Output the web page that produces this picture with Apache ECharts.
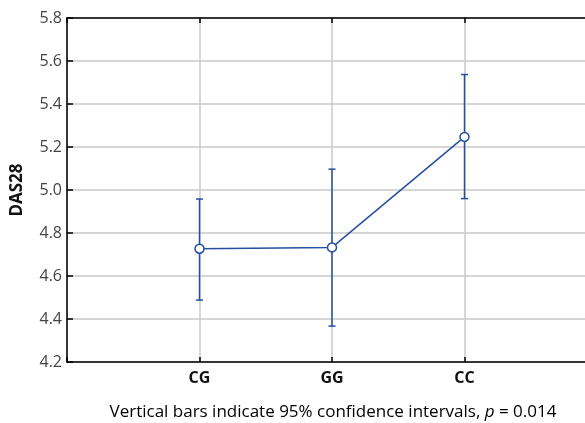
<!DOCTYPE html>
<html>
<head>
<meta charset="utf-8">
<script src="https://cdn.jsdelivr.net/npm/echarts@6/dist/echarts.min.js"></script>
<style>html,body{margin:0;padding:0;background:#fff}#c{width:585px;height:423px}</style>
</head>
<body>
<div id="c"></div>
<script>
const categories = ['CG', 'GG', 'CC'];
const means = [4.727, 4.733, 5.247];
const lower = [4.488, 4.367, 4.960];
const upper = [4.958, 5.097, 5.537];
const yTicks = [4.2, 4.4, 4.6, 4.8, 5.0, 5.2, 5.4, 5.6, 5.8];

const blue = '#24509f';
const font = '"Open Sans", "Noto Sans", sans-serif';

const lineData = categories.map((c, i) => [i + 1, means[i]]);
const errData = categories.map((c, i) => [i + 1, lower[i], upper[i]]);

const chart = echarts.init(document.getElementById('c'), null, {renderer: 'canvas'});
chart.setOption({
  animation: false,
  backgroundColor: '#fff',
  grid: {left: 67, top: 18, width: 530, height: 344, containLabel: false, outerBoundsMode: 'none'},
  xAxis: [{
    type: 'value', min: 0, max: 4, interval: 1,
    axisLine: {show: true, lineStyle: {color: '#000', width: 1.5}},
    axisTick: {show: true, inside: true, length: 5, lineStyle: {color: '#000', width: 1.5}},
    axisLabel: {
      margin: 8, fontFamily: font, fontSize: 16, fontWeight: 'bold', color: '#111',
      formatter: v => (v >= 1 && v <= categories.length) ? categories[v - 1] : ''
    },
    splitLine: {show: true, lineStyle: {color: '#c8c8c8', width: 1.5}}
  }, {
    type: 'value', position: 'top', min: 0, max: 4, interval: 1,
    axisLine: {show: true, lineStyle: {color: '#000', width: 1.5}},
    axisTick: {show: true, inside: true, length: 5, lineStyle: {color: '#000', width: 1.5}},
    axisLabel: {show: false},
    splitLine: {show: false}
  }],
  yAxis: {
    type: 'value', min: 4.2, max: 5.8, interval: 0.2,
    name: 'DAS28', nameLocation: 'middle', nameRotate: 90, nameGap: 41,
    nameTextStyle: {fontFamily: font, fontSize: 17, fontWeight: 'bold', color: '#111'},
    axisLine: {show: true, lineStyle: {color: '#000', width: 1.5}},
    axisTick: {show: true, inside: true, length: 6, lineStyle: {color: '#000', width: 1.5}},
    axisLabel: {
      margin: 5, fontFamily: font, fontSize: 16, color: '#444',
      formatter: v => v.toFixed(1)
    },
    splitLine: {show: true, lineStyle: {color: '#c8c8c8', width: 1.5}}
  },
  series: [{
    type: 'custom',
    data: errData,
    z: 3,
    renderItem: function (params, api) {
      const x = api.value(0);
      const lo = api.coord([x, api.value(1)]);
      const hi = api.coord([x, api.value(2)]);
      const hw = 3.5;
      const st = {stroke: blue, lineWidth: 1.5};
      return {
        type: 'group',
        children: [
          {type: 'line', shape: {x1: lo[0], y1: lo[1], x2: hi[0], y2: hi[1]}, style: st},
          {type: 'line', shape: {x1: lo[0] - hw, y1: lo[1], x2: lo[0] + hw, y2: lo[1]}, style: st},
          {type: 'line', shape: {x1: hi[0] - hw, y1: hi[1], x2: hi[0] + hw, y2: hi[1]}, style: st}
        ]
      };
    }
  }, {
    type: 'line',
    data: lineData,
    z: 4,
    symbol: 'circle', symbolSize: 9,
    lineStyle: {color: blue, width: 1.5},
    itemStyle: {color: '#fff', borderColor: blue, borderWidth: 1.5}
  }],
  graphic: [{
    type: 'text',
    x: 333,
    y: 412,
    style: {
      text: '{n|Vertical bars indicate 95% confidence intervals, }{i|p}{n| = 0.014}',
      align: 'center',
      verticalAlign: 'middle',
      rich: {
        n: {fontFamily: font, fontSize: 17, color: '#333'},
        i: {fontFamily: font, fontSize: 17, fontStyle: 'italic', color: '#333'}
      }
    }
  }]
});
</script>
</body>
</html>
